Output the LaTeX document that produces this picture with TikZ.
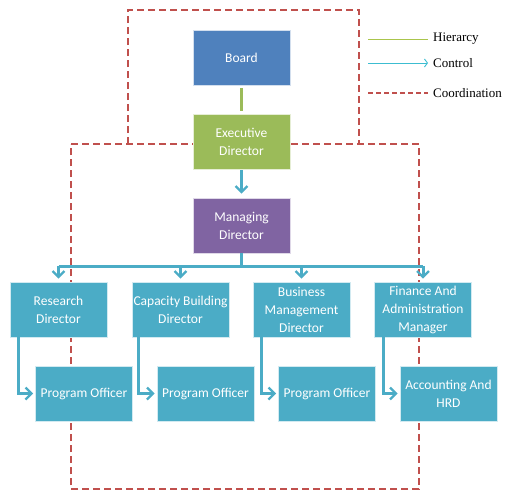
\documentclass[tikz,border=0pt]{standalone}
\usepackage{fontspec}
\setmainfont{Liberation Serif}
\newfontfamily\boxfont{Carlito}
\usetikzlibrary{arrows.meta}
\definecolor{boardblue}{HTML}{4F81BD}
\definecolor{execgreen}{HTML}{9BBB59}
\definecolor{mgrpurple}{HTML}{8064A2}
\definecolor{unitteal}{HTML}{4BACC6}
\definecolor{coordred}{HTML}{C0504D}
\tikzset{
  x=1pt, y=-1pt,
  unit/.style={rectangle, minimum width=97pt, minimum height=55pt, inner sep=1pt,
    align=center, text=white, font=\boxfont\fontsize{13.5}{18}\selectfont,
    fill=unitteal, draw=white!75!unitteal, line width=0.6pt},
  hier/.style={draw=execgreen, line width=3pt},
  ctrl/.style={draw=unitteal, line width=3pt,
    -{Straight Barb[length=6pt,width=12pt,line width=2.4pt]}},
  bus/.style={draw=unitteal, line width=3pt},
  coord/.style={draw=coordred, line width=1.6pt, dash pattern=on 7pt off 4pt},
  legend/.style={anchor=west, inner sep=0pt, font=\fontsize{13}{15}\selectfont},
}
\begin{document}
\begin{tikzpicture}
\useasboundingbox (0,0) rectangle (505,493);

% coordination frame (behind everything)
\coordinate (c1) at (128,144);
\coordinate (c2) at (128,10);
\coordinate (c3) at (359,10);
\coordinate (c4) at (359,144);
\coordinate (f1) at (71,144);
\coordinate (f2) at (419,144);
\coordinate (f3) at (419,489);
\coordinate (f4) at (71,489);
\draw[coord] (c1) -- (c2) -- (c3) -- (c4);
\draw[coord] (f1) -- (f2) -- (f3) -- (f4) -- cycle;

% top of the hierarchy
\node[unit, fill=boardblue, draw=white!75!boardblue] (board) at (241.5,58) {Board};
\node[unit, fill=execgreen, draw=white!75!execgreen] (exec) at (241.5,141.5) {Executive\\Director};
\node[unit, fill=mgrpurple, draw=white!75!mgrpurple] (md) at (241.5,225.5) {Managing\\Director};

% directors
\node[unit] (rd) at (58.5,309.5) {Research\\Director};
\node[unit] (cb) at (180.5,309.5) {Capacity Building\\Director};
\node[unit] (bm) at (301.5,309.5) {Business\\Management\\Director};
\node[unit] (fa) at (423,309.5) {Finance And\\Administration\\Manager};

% officers
\node[unit] (po1) at (84,393.5) {Program Officer};
\node[unit] (po2) at (205.5,393.5) {Program Officer};
\node[unit] (po3) at (327,393.5) {Program Officer};
\node[unit] (acc) at (448.5,393.5) {Accounting And\\HRD};

% hierarchy and control links
\draw[hier, shorten <=2pt, shorten >=3pt] (board) -- (exec);
\draw[ctrl, shorten <=1pt, shorten >=4pt] (exec) -- (md);

\coordinate (busy) at (241.5,266);
\draw[bus] (md.south) -- (md.south |- busy);
\draw[bus] (rd.north |- busy) -- (fa.north |- busy);
\foreach \n in {rd,cb,bm,fa}
  \draw[ctrl, shorten >=3pt] (\n.north |- busy) -- (\n.north);

\draw[ctrl, shorten >=2pt] ([xshift=9pt,yshift=3pt]rd.south west) |- (po1.west);
\draw[ctrl, shorten >=2pt] ([xshift=7pt,yshift=3pt]cb.south west) |- (po2.west);
\draw[ctrl, shorten >=2pt] ([xshift=9pt,yshift=3pt]bm.south west) |- (po3.west);
\draw[ctrl, shorten >=2pt] ([xshift=9pt,yshift=3pt]fa.south west) |- (acc.west);

% legend
\node[legend] (lh) at (433,39) {Hierarcy};
\node[legend] (lc) at (433,63) {Control};
\node[legend] (lk) at (433,93) {Coordination};
\coordinate (lh0) at (368,39);
\coordinate (lc0) at (368,63);
\coordinate (lk0) at (368,93);
\draw[draw=execgreen!85!yellow, line width=0.9pt, shorten >=5pt] (lh0) -- (lh.west);
\draw[draw=unitteal!80!cyan, line width=0.9pt, shorten >=5pt,
  -{Straight Barb[length=3pt,width=8pt]}] (lc0) -- (lc.west);
\draw[draw=coordred, line width=2.4pt, dash pattern=on 5pt off 3pt, shorten >=5pt] (lk0) -- (lk.west);
\end{tikzpicture}
\end{document}
